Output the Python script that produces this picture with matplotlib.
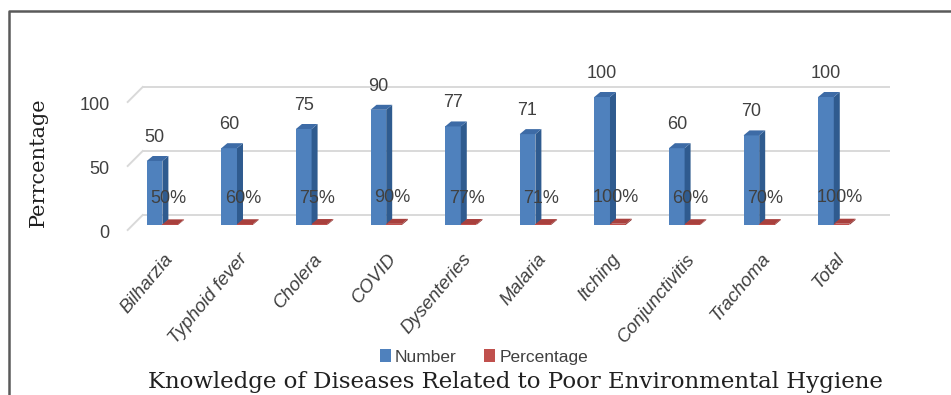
import matplotlib
matplotlib.use("Agg")
import matplotlib.pyplot as plt
from matplotlib.patches import Polygon, Patch
from matplotlib.lines import Line2D
from matplotlib.transforms import IdentityTransform, ScaledTranslation

# survey results
diseases = ['Bilharzia', 'Typhoid fever', 'Cholera', 'COVID', 'Dysenteries',
            'Malaria', 'Itching', 'Conjunctivitis', 'Trachoma', 'Total']
number = [50, 60, 75, 90, 77, 71, 100, 60, 70, 100]
percentage = [0.50, 0.60, 0.75, 0.90, 0.77, 0.71, 1.00, 0.60, 0.70, 1.00]
y_ticks = [0, 50, 100]

sans = ['Liberation Sans Narrow', 'Liberation Sans', 'DejaVu Sans']
serif = ['DejaVu Serif']
txt = '#404040'

fig = plt.figure(figsize=(9.51, 3.95), dpi=100)
ax = fig.add_axes([127.7 / 951, 170 / 395, 746 / 951, 128 / 395])
ax.set_xlim(-0.5, 9.5)
ax.set_ylim(0, 100)
for s in ax.spines.values():
    s.set_visible(False)
ax.set_xticks([])
ax.set_yticks(y_ticks)
ax.tick_params(axis='y', length=0, pad=13, labelsize=13, labelcolor=txt)
# tick labels sit on the front plane, a little below the bar floor
for lab in ax.get_yticklabels():
    lab.set_family(sans)
    lab.set_transform(lab.get_transform() + ScaledTranslation(0, -6 / 100, fig.dpi_scale_trans))

to_px = ax.transData.transform

# gridlines on the back wall plus the short diagonal on the left side
depth_back = (15, 10)
depth_front = (0, -5)
for yv in y_ticks:
    (xl, yl), (xr, yr) = to_px([(-0.5, yv), (9.5, yv)])
    back = Line2D([xl + depth_back[0], xr + depth_back[0]], [yl + depth_back[1], yr + depth_back[1]],
                  transform=IdentityTransform(), color='#d9d9d9', lw=1.4, zorder=1, clip_on=False)
    side = Line2D([xl + depth_front[0], xl + depth_back[0]], [yl + depth_front[1], yl + depth_back[1]],
                  transform=IdentityTransform(), color='#d9d9d9', lw=1.4, zorder=1, clip_on=False)
    ax.add_line(back)
    ax.add_line(side)

dx, dy = 6, 5
bw = 0.21


def bar3d(xc, h, front, side, top):
    ax.bar(xc, h, width=bw, color=front, zorder=3, linewidth=0)
    (x0, y0), (x1, y1) = to_px([(xc - bw / 2, 0), (xc + bw / 2, h)])
    side_pts = [(x1, y0), (x1 + dx, y0 + dy), (x1 + dx, y1 + dy), (x1, y1)]
    top_pts = [(x0, y1), (x1, y1), (x1 + dx, y1 + dy), (x0 + dx, y1 + dy)]
    for pts, c in ((side_pts, side), (top_pts, top)):
        ax.add_patch(Polygon(pts, closed=True, facecolor=c, edgecolor='none',
                             transform=IdentityTransform(), zorder=3, clip_on=False))


for i, (n, p) in enumerate(zip(number, percentage)):
    bx = i - 0.14
    rx = i + 0.07
    bar3d(bx, n, '#4f81bd', '#2f5b8f', '#3d6ba6')
    bar3d(rx, p, '#c0504d', '#8c3230', '#a8403d')
    ax.annotate(str(n), xy=(bx, n), xytext=(0, 19), textcoords='offset pixels',
                ha='center', va='baseline', fontsize=13, color=txt, family=sans,
                annotation_clip=False)
    ax.annotate(f'{p:.0%}', xy=(rx, p), xytext=(-2, 26), textcoords='offset pixels',
                ha='center', va='center', fontsize=13, color=txt, family=sans, zorder=5,
                annotation_clip=False)
    ax.annotate(diseases[i], xy=(i, 0), xytext=(5, -31), textcoords='offset pixels',
                ha='right', va='center', rotation=50, rotation_mode='anchor',
                fontsize=13.5, fontstyle='italic', color=txt, family=sans,
                annotation_clip=False)

handles = [Patch(facecolor='#4f81bd', label='Number'),
           Patch(facecolor='#c0504d', label='Percentage')]
fig.legend(handles=handles, loc='center', bbox_to_anchor=(484 / 951, 1 - 357 / 395),
           ncol=2, frameon=False, handlelength=0.6, handleheight=0.8,
           handletextpad=0.25, columnspacing=1.6, prop={'family': sans, 'size': 12.5},
           labelcolor=txt)

fig.text(515 / 951, 1 - 382 / 395, 'Knowledge of Diseases Related to Poor Environmental Hygiene',
         ha='center', va='center', family=serif, fontsize=16.5, color='#202020')
fig.text(38 / 951, 1 - 162 / 395, 'Perrcentage', rotation=90, ha='center', va='center',
         family=serif, fontsize=15, color='#202020')

# frame along the top and left edge
fig.add_artist(Line2D([8.5 / 951, 8.5 / 951, 1], [0, 1 - 10.5 / 395, 1 - 10.5 / 395],
                      transform=fig.transFigure, color='#5a5a5a', lw=1.8))

fig.savefig('out.png', dpi=100)
